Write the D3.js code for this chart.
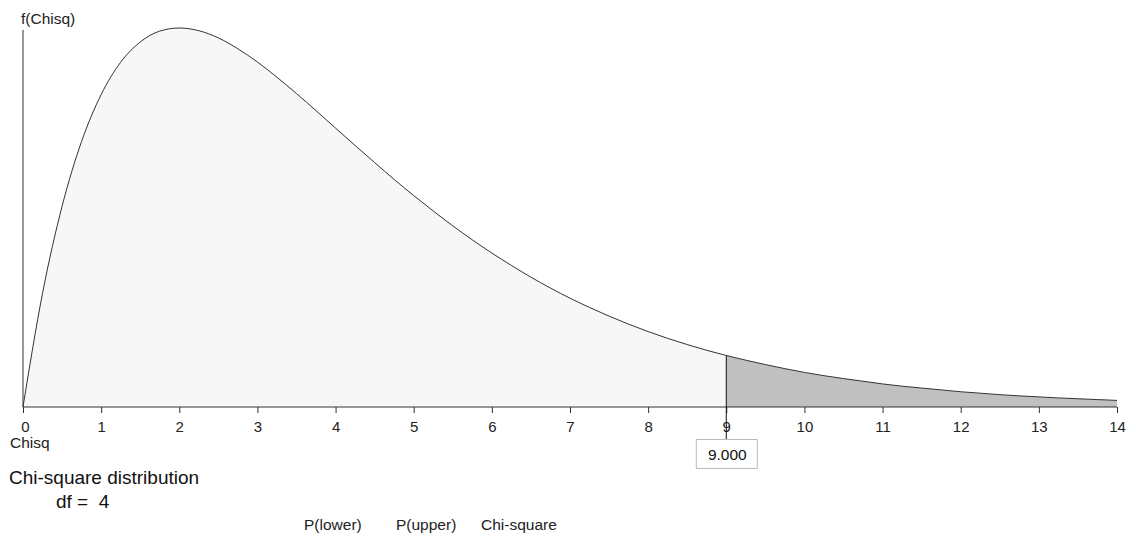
<!DOCTYPE html>
<html lang="en">
<head>
  <meta charset="UTF-8">
  <title>Chi-square distribution</title>
  <script src="https://d3js.org/d3.v7.min.js"></script>
  <style>
    body { margin: 0; background: #fff; }
    svg { font-family: "Liberation Sans", Arial, sans-serif; }
  </style>
</head>
<body>
  <svg width="1136" height="536"></svg>

  <script>
    // density values (df = 4), step 0.25
    const xs = d3.range(0, 14.001, 0.25);
    const dens = [0, 0.0552, 0.0974, 0.1289, 0.1516, 0.1673, 0.1771, 0.1824, 0.1839,
      0.1826, 0.1791, 0.1738, 0.1674, 0.1600, 0.1521, 0.1438, 0.1353, 0.1269, 0.1186,
      0.1104, 0.1026, 0.0951, 0.0879, 0.0811, 0.0747, 0.0687, 0.0630, 0.0577, 0.0528,
      0.0483, 0.0441, 0.0402, 0.0366, 0.0333, 0.0303, 0.0275, 0.0250, 0.0227, 0.0206,
      0.0186, 0.0168, 0.0152, 0.0138, 0.0125, 0.0112, 0.0101, 0.0092, 0.0083, 0.0074,
      0.0067, 0.0060, 0.0054, 0.0049, 0.0044, 0.0040, 0.0036, 0.0032];
    const cutoff = 9;
    const df = 4;
    const ticks = d3.range(0, 15);

    const points = xs.map((x, i) => ({ x, y: dens[i] }));

    const svg = d3.select("svg");
    const x = d3.scaleLinear().domain([0, 14]).range([23, 1117]);
    const y = d3.scaleLinear().domain([0, 0.1839]).range([407, 28]);

    const area = d3.area().curve(d3.curveMonotoneX)
      .x(d => x(d.x)).y0(y(0)).y1(d => y(d.y));
    const line = d3.line().curve(d3.curveMonotoneX)
      .x(d => x(d.x)).y(d => y(d.y));

    const lower = points.filter(d => d.x <= cutoff);
    const upper = points.filter(d => d.x >= cutoff);

    svg.append("path").datum(lower).attr("d", area).attr("fill", "#f7f7f7");
    svg.append("path").datum(upper).attr("d", area).attr("fill", "#c0c0c0");
    svg.append("path").datum(points).attr("d", line)
      .attr("fill", "none").attr("stroke", "#333").attr("stroke-width", 1);

    // y axis line
    svg.append("line")
      .attr("x1", x(0)).attr("x2", x(0))
      .attr("y1", 30).attr("y2", y(0))
      .attr("stroke", "#333");
    svg.append("text").attr("x", 21).attr("y", 24)
      .attr("font-size", 15.5).attr("fill", "#222").text("f(Chisq)");

    // x axis
    const xAxis = svg.append("g")
      .attr("transform", `translate(0,${y(0)})`)
      .call(d3.axisBottom(x).tickValues(ticks).tickSize(6).tickPadding(8).tickFormat(d3.format("d")))
      .attr("font-size", 15)
      .attr("font-family", "Liberation Sans, Arial, sans-serif");
    xAxis.select(".domain").attr("stroke", "#333").attr("d", `M${x(0)},0H${x(14)}`);
    xAxis.selectAll(".tick line").attr("stroke", "#333");
    xAxis.selectAll(".tick text").attr("fill", "#222");
    xAxis.selectAll(".tick text").filter(d => d === 0).attr("dx", 2);

    svg.append("text").attr("x", 10).attr("y", 447.5)
      .attr("font-size", 15.5).attr("fill", "#222").text("Chisq");

    // cutoff marker
    svg.append("line")
      .attr("x1", x(cutoff)).attr("x2", x(cutoff))
      .attr("y1", y(dens[xs.indexOf(cutoff)])).attr("y2", 440)
      .attr("stroke", "#111");
    svg.append("rect")
      .attr("x", x(cutoff) - 30).attr("y", 439.5)
      .attr("width", 61).attr("height", 29)
      .attr("fill", "#fff").attr("stroke", "#bbb");
    svg.append("text").attr("x", x(cutoff) + 1).attr("y", 460)
      .attr("text-anchor", "middle").attr("font-size", 15.5).attr("fill", "#111")
      .text(cutoff.toFixed(3));

    // titles
    svg.append("text").attr("x", 9).attr("y", 484)
      .attr("font-size", 19).attr("fill", "#111").text("Chi-square distribution");
    svg.append("text").attr("x", 56).attr("y", 508)
      .attr("font-size", 19).attr("fill", "#111").attr("xml:space", "preserve")
      .text("df =  " + df);

    const bottomLabels = [["P(lower)", 304], ["P(upper)", 396], ["Chi-square", 481]];
    svg.selectAll(".blab").data(bottomLabels).join("text")
      .attr("class", "blab")
      .attr("x", d => d[1]).attr("y", 530)
      .attr("font-size", 15.5).attr("fill", "#222")
      .text(d => d[0]);
  </script>
</body>
</html>
